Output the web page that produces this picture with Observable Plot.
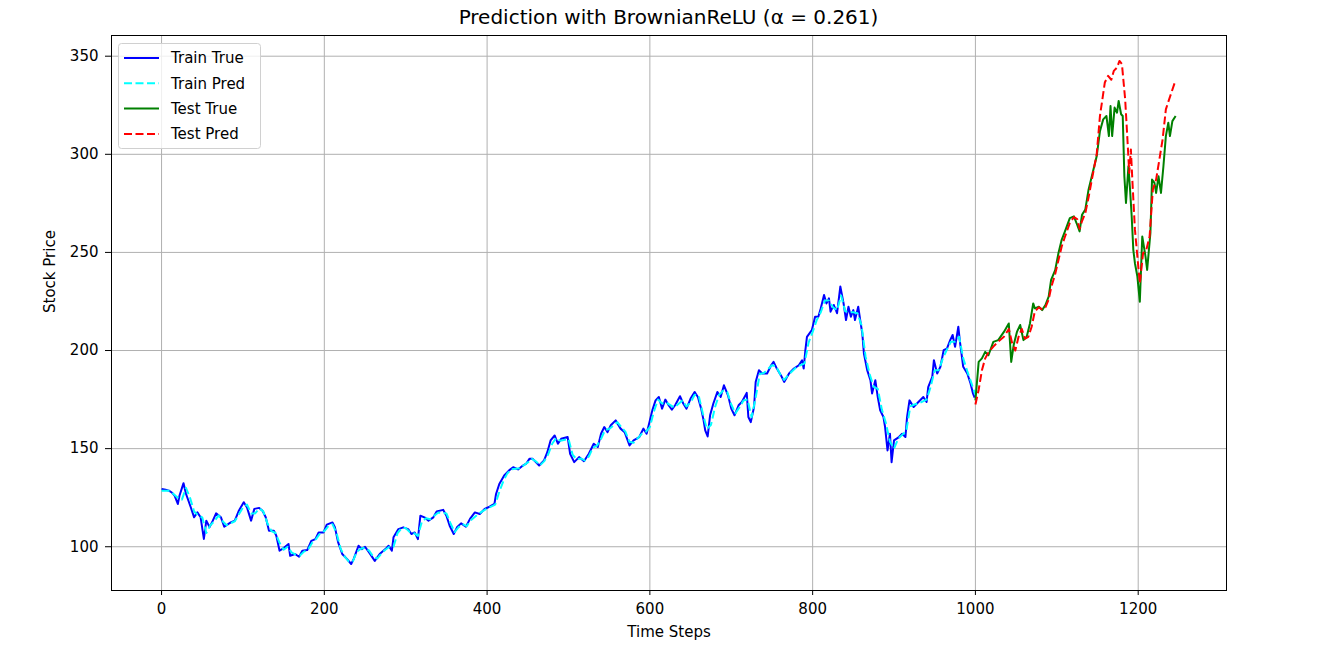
<!DOCTYPE html>
<html>
<head>
<meta charset="utf-8">
<script src="https://cdn.jsdelivr.net/npm/d3@7"></script>
<script src="https://cdn.jsdelivr.net/npm/@observablehq/plot@0.6"></script>
<style>
  html, body { margin: 0; padding: 0; background: #fff; }
  #wrap { position: relative; width: 1323px; height: 650px; font-family: "DejaVu Sans", sans-serif; }
  #title { position: absolute; left: 111px; width: 1115px; top: 7px; text-align: center; font-size: 20px; line-height: 20px; color: #000; }
  #legend { position: absolute; left: 118px; top: 43px; }
</style>
</head>
<body>
<div id="wrap">
  <div id="chart"></div>
  <div id="title">Prediction with BrownianReLU (α = 0.261)</div>
  <svg id="legend" width="144" height="108"></svg>
</div>
<script>
const xTicks = [0, 200, 400, 600, 800, 1000, 1200];
const yTicks = [100, 150, 200, 250, 300, 350];
const seriesNames = ["Train True", "Train Pred", "Test True", "Test Pred"];
const seriesColors = ["#0000ff", "#00ffff", "#008000", "#ff0000"];
const seriesDash = [null, "8,3.5", null, "8,3.5"];

const trainTrueT = [0,5,9,13,16,20,22,27,30,36,40,44,48,52,55,59,63,67,73,77,85,90,95,101,105,110,114,120,124,128,132,138,141,145,150,156,158,164,169,173,179,184,189,193,199,203,210,213,217,222,228,233,236,242,246,250,255,262,268,275,279,283,285,291,297,303,307,311,315,318,323,328,334,338,346,350,354,359,363,368,374,379,385,391,397,403,409,411,415,421,427,432,438,444,448,452,456,464,470,474,478,483,487,491,499,502,507,513,519,525,531,536,540,544,548,552,558,564,569,575,580,587,592,596,600,603,607,611,615,619,623,627,631,637,641,645,650,655,659,663,666,668,671,674,678,683,687,691,696,700,704,709,713,719,721,724,728,730,734,738,744,749,752,756,762,765,771,777,783,787,789,791,793,799,803,807,810,814,817,820,822,826,830,834,838,841,844,847,850,852,856,859,861,863,867,871,873,877,880,883,887,889,892,895,897,900,906,910,914,916,919,924,930,936,940,942,947,949,953,957,961,965,969,972,975,979,981,985,990,994,997,999];
const trainTrueV = [129.5,129,128.6,127.5,126,121.8,126,132.4,127,120,115,117.5,115,104,113.3,110,113.3,117,115,110.2,112.4,113.3,118.4,122.7,120,113.3,119.3,119.8,118.4,115,108.2,108.2,105.6,98,99.3,101.4,95.4,96.3,94.9,98,98.3,103,103.9,107.3,107.3,111.3,112.4,110,102.2,96.3,93.7,91.2,93.7,100.5,98.8,100,97.1,92.8,96.3,98.8,100.5,98,104.8,109,109.9,109,106.5,107.3,103.9,115.8,115,113.3,115,118,118.8,115.8,110.7,106.5,109.9,111.9,110.2,114.2,117.5,116.7,119.3,120.4,121.8,126.9,132,136.3,138.9,140.5,139.4,141.4,142.3,144.8,144.8,141.4,144,148.2,154.2,156.7,152.5,155,155.9,147.4,143.1,145.7,143.6,147.4,152.5,150.8,157.6,161,158.4,161.9,164.4,160.2,158.4,151.6,154.2,155.9,160.2,157.6,164.4,169.5,174.6,176.3,170.4,175,172.1,169.9,172.1,176.7,173,170.4,175.5,178.9,176.3,170.4,164.4,159.3,156.2,167,173,178.9,176.3,182.3,177.2,170.4,167,172.1,173.8,178.4,166.1,163.5,171.2,184,190,188.3,188.3,192.5,194.2,190.8,186.6,184,188.3,190.8,192.5,195,190.8,200,207,210.4,217.2,217.2,221.5,228.3,224,226.6,219.8,223.2,219,232.6,224,215.5,222.3,217.2,220.6,215.5,222.3,213.9,208.7,198.5,190,184.9,178.1,184.9,176.3,169.5,166.1,161,149.1,157.6,143.1,154.2,155.9,157.6,155.9,166.1,174.6,171.2,173.8,176.3,173.8,181.4,186.6,195.1,188.3,191.7,200.2,201,205.3,207.9,201.9,212.1,204.4,191.7,188.3,183.2,178.1,176];

const trainPredT = [0,10,20,25,30,35,40,45,50,55,60,65,70,75,80,90,100,105,110,115,120,125,130,135,140,145,150,155,160,165,170,175,180,185,190,195,200,205,210,215,220,225,230,235,240,245,250,255,260,265,270,275,280,285,290,295,300,305,310,315,320,325,330,340,350,355,360,365,370,375,380,390,400,410,415,420,425,430,440,450,455,460,465,470,475,480,485,490,500,505,510,515,520,525,530,535,540,545,550,560,565,570,575,580,590,595,600,605,610,615,620,630,640,645,650,655,660,665,670,675,680,685,690,695,700,705,710,715,720,725,730,735,740,750,755,760,765,770,780,790,795,800,805,810,815,820,825,830,835,840,845,850,855,860,865,870,875,880,885,890,895,900,905,910,915,920,925,930,940,945,950,955,960,965,970,975,980,985,990,995,1000];
const trainPredV = [128.5,128.5,125,124,130,125,118,116,115,107,111,113,116,113,111,113,120,121.5,117,117,119.5,118,112,108,107,102,98.5,100,97,96,95.5,97.5,98.5,102,104,107,108,110.5,111.5,107,99,95,92.5,92.5,97.5,99,99.5,98,95,94,96.5,98.5,100,100,107,109.5,109.5,107.5,107,105.5,113,114.5,114,117.5,117,112,107.5,110,111.5,110.5,113.5,117,119.5,121.5,128,133.5,137.5,139.5,140,143,144.8,143.5,141.5,143.5,147,152.5,155.5,154,155,147,144.5,145,144,146,150.5,151.5,155,159.5,160,163.5,161,158.5,153.5,153,157.5,158.5,161,169,175,173,173.5,171,174.5,171.5,173.5,177.5,177,168,160,162,171,177.5,179.5,179,172.5,168,171,174.5,175,166,176,188,188.5,192.5,192,188,185,187.5,191.5,193.5,204,209.5,215.5,219.5,225.5,225.5,222,220.5,228,220,219.5,219.5,219,213,197,188,181.5,180.5,170,163,153.5,150,155,157,159,171.5,172.5,173,175,181.5,190,190,196,200.5,204.5,204.5,207,196,189.5,183.5,177.5];

const testTrueT = [1000,1004,1008,1012,1016,1022,1028,1035,1041,1044,1047,1051,1055,1059,1063,1067,1071,1073,1078,1082,1086,1090,1093,1098,1102,1106,1110,1116,1121,1125,1128,1131,1135,1139,1143,1149,1153,1157,1161,1164,1166,1168,1171,1174,1176,1179,1181,1183,1185,1188,1190,1192,1194,1196,1199,1202,1205,1209,1211,1215,1217,1220,1222,1225,1228,1231,1234,1237,1239,1242,1246];
const testTrueV = [174.6,194.2,196,199.3,197.6,204.4,205.3,209.5,213.8,194.2,202.8,209.5,213,205.3,207,213.8,224,221.5,222.3,220.6,223.2,227.5,236,241,249.6,256.4,260.7,267.5,268.4,264.1,260.7,269.2,271.8,282,288.8,299,311.8,317.8,319.5,309.3,324.6,309.3,323.8,321.2,327.2,320.4,319.5,288.8,275.2,293.9,282,268.4,251.3,244.5,237.7,224.9,258.1,247.9,241.1,259.9,287.1,285.4,280.3,288.8,280.3,293.9,309.3,316.1,309.3,316.9,319.5];

const testPredT = [1000,1004,1008,1012,1016,1022,1028,1035,1041,1045,1049,1053,1057,1061,1065,1069,1073,1078,1082,1086,1090,1093,1098,1102,1106,1110,1116,1121,1125,1128,1131,1135,1139,1143,1149,1153,1159,1163,1167,1170,1174,1177,1180,1184,1187,1189,1191,1193,1196,1199,1202,1206,1210,1214,1218,1222,1226,1230,1234,1238,1245];
const testPredV = [172.5,180,190,196,199,202,204.5,207,211,204,200,207,211,206,207,212,220,222,221,222,226,232,239,246,253,258,265,268,267,262,266,270,278,287,300,319.5,336.6,340,338,342.5,344.2,347.6,346,328,305.9,290.5,302.5,285.4,261.6,247.9,234.3,249.6,251.3,258.1,282,287.1,297.3,307.6,322.9,328,336.6];

const seriesT = [trainTrueT, trainPredT, testTrueT, testPredT];
const seriesV = [trainTrueV, trainPredV, testTrueV, testPredV];

const lineMarks = seriesV.map((vals, i) => Plot.line(vals, {
  x: seriesT[i], y: vals,
  stroke: seriesColors[i], strokeWidth: 2,
  strokeDasharray: seriesDash[i] || undefined,
  strokeLinejoin: "round", strokeLinecap: "butt"
}));

const chart = Plot.plot({
  width: 1323, height: 650,
  marginLeft: 111, marginRight: 97, marginTop: 35, marginBottom: 60,
  style: { fontFamily: "DejaVu Sans, sans-serif", fontSize: "15px", color: "#000", background: "#fff" },
  x: { domain: [-61.5, 1308.5] },
  y: { domain: [77.7, 360.55] },
  marks: [
    Plot.gridX(xTicks, { stroke: "#b0b0b0", strokeOpacity: 1, strokeWidth: 1 }),
    Plot.gridY(yTicks, { stroke: "#b0b0b0", strokeOpacity: 1, strokeWidth: 1 }),
    ...lineMarks,
    Plot.frame({ stroke: "#000", strokeWidth: 1 }),
    Plot.axisX(xTicks, { tickSize: 5, tickPadding: 8, label: null, fontSize: 15, tickFormat: d => String(d) }),
    Plot.axisY(yTicks, { tickSize: 6, tickPadding: 7, label: null, fontSize: 15, tickFormat: d => String(d) }),
    Plot.text(["Time Steps"], { text: d => d, frameAnchor: "bottom", dy: 46, fontSize: 15 }),
    Plot.text(["Stock Price"], { text: d => d, frameAnchor: "left", dx: -61, rotate: -90, fontSize: 15 })
  ]
});
document.getElementById("chart").appendChild(chart);

// legend
const leg = d3.select("#legend");
leg.append("rect").attr("x", 0.5).attr("y", 0.5).attr("width", 142).attr("height", 105)
  .attr("rx", 3).attr("fill", "rgba(255,255,255,0.8)").attr("stroke", "#d0d0d0");
seriesNames.forEach((name, i) => {
  const cy = 15 + i * 25.3;
  leg.append("line").attr("x1", 6).attr("x2", 41).attr("y1", cy).attr("y2", cy)
    .attr("stroke", seriesColors[i]).attr("stroke-width", 2)
    .attr("stroke-dasharray", seriesDash[i]);
  leg.append("text").attr("x", 53).attr("y", cy).attr("dy", "0.35em")
    .attr("font-family", "DejaVu Sans, sans-serif").attr("font-size", 15).attr("fill", "#000")
    .text(name);
});
</script>
</body>
</html>
